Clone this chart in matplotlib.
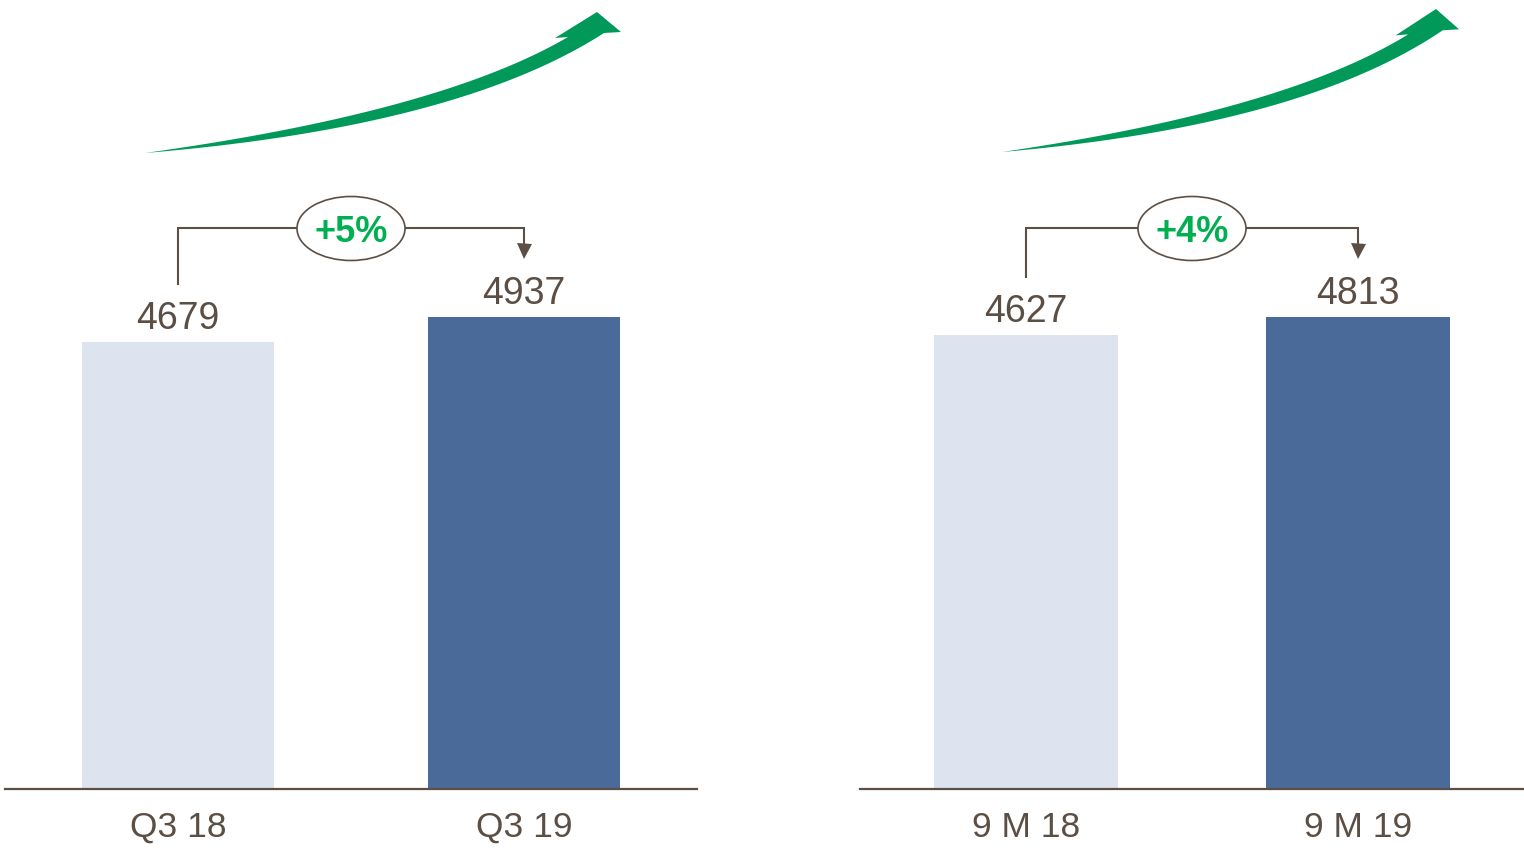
import numpy as np
import matplotlib
matplotlib.use("Agg")
import matplotlib.pyplot as plt
from matplotlib.patches import Ellipse, Polygon

plt.rcParams['font.family'] = ['Liberation Sans', 'DejaVu Sans']

# ---- data ----
categories_left = ['Q3 18', 'Q3 19']
values_left = [4679, 4937]
growth_left = '+5%'

categories_right = ['9 M 18', '9 M 19']
values_right = [4627, 4813]
growth_right = '+4%'

bar_colors = ['#DDE4EF', '#4A6B9A']
brown = '#5B4F45'
green_text = '#00B050'
green_arrow = '#00995A'

W_FIG, H_FIG = 1524, 850
fig = plt.figure(figsize=(W_FIG / 100, H_FIG / 100), dpi=100)

BASE = 789          # baseline pixel row
AX_H = BASE         # axes from baseline to top of figure
TOP_BAR = 317       # pixel row of tallest bar


def panel(x0_px, x1_px, cats, vals, growth):
    W = x1_px - x0_px
    ax = fig.add_axes([x0_px / W_FIG, (H_FIG - BASE) / H_FIG, W / W_FIG, AX_H / H_FIG])
    x = np.arange(len(vals))
    ymax = max(vals) * AX_H / (BASE - TOP_BAR)
    ax.set_ylim(0, ymax)
    ax.set_xlim(-0.5, 1.5)
    py = ymax / AX_H       # data units per pixel (y)
    pxx = 2.0 / W          # data units per pixel (x)
    ax.bar(x, vals, width=0.557, color=bar_colors, zorder=2)
    for s in ['top', 'right', 'left']:
        ax.spines[s].set_visible(False)
    ax.spines['bottom'].set_color(brown)
    ax.spines['bottom'].set_linewidth(1.6)
    ax.spines['bottom'].set_zorder(3)
    ax.set_yticks([])
    ax.set_xticks([])
    ax.patch.set_alpha(0)
    for xi, v in zip(x, vals):
        ax.text(xi, v + 13 * py, f'{v}', ha='center', va='baseline',
                fontsize=27, color=brown)
    for xi, c in zip(x, cats):
        ax.text(xi, -48 * py, c, ha='center', va='baseline', fontsize=25.5,
                color=brown, clip_on=False)
    # bracket
    yb = (BASE - 228) * py
    y0 = vals[0] + 58 * py
    ax.plot([x[0], x[0], x[1], x[1]], [y0, yb, yb, (BASE - 245) * py],
            color=brown, lw=1.5, solid_joinstyle='miter', zorder=3)
    ax.plot([x[1]], [(BASE - 250.5) * py], marker='v', ms=10.8, mew=0,
            color=brown, zorder=3)
    xm = (x[0] + x[1]) / 2
    ax.add_patch(Ellipse((xm, (BASE - 228.5) * py), width=108 * pxx,
                         height=64 * py, facecolor='white', edgecolor=brown,
                         lw=1.2, zorder=4))
    ax.text(xm, (BASE - 242) * py, growth, ha='center', va='baseline',
            fontsize=26, fontweight='bold', color=green_text, zorder=5)
    return ax


panel(5, 697, categories_left, values_left, growth_left)
panel(860, 1524, categories_right, values_right, growth_right)

# ---- decorative green swoosh arrows (figure pixel coordinates) ----
ov = fig.add_axes([0, 0, 1, 1], zorder=-1)
ov.set_xlim(0, W_FIG)
ov.set_ylim(H_FIG, 0)
ov.axis('off')


def quad(p0, c, p2, n=60):
    t = np.linspace(0, 1, n)[:, None]
    p0, c, p2 = map(np.asarray, (p0, c, p2))
    return (1 - t) ** 2 * p0 + 2 * t * (1 - t) * c + t ** 2 * p2


def swoosh(tail, tip):
    rt, rp = (145, 153), (597, 12)
    sx = (tip[0] - tail[0]) / (rp[0] - rt[0])
    sy = (tip[1] - tail[1]) / (rp[1] - rt[1])

    def T(pts):
        pts = np.asarray(pts, dtype=float)
        return np.column_stack([tail[0] + (pts[:, 0] - rt[0]) * sx,
                                tail[1] + (pts[:, 1] - rt[1]) * sy])
    top = quad(rt, (440, 112), (568, 37))
    head = np.array([(555, 38), (597, 12), (621, 32), (604, 33)])
    bottom = quad((604, 33), (458, 127), rt)
    pts = T(np.vstack([top, head, bottom]))
    ov.add_patch(Polygon(pts, closed=True, facecolor=green_arrow,
                         edgecolor='none'))


swoosh((145, 153), (597, 12))
swoosh((1002, 152), (1436, 9))

fig.savefig('out.png', dpi=100)
